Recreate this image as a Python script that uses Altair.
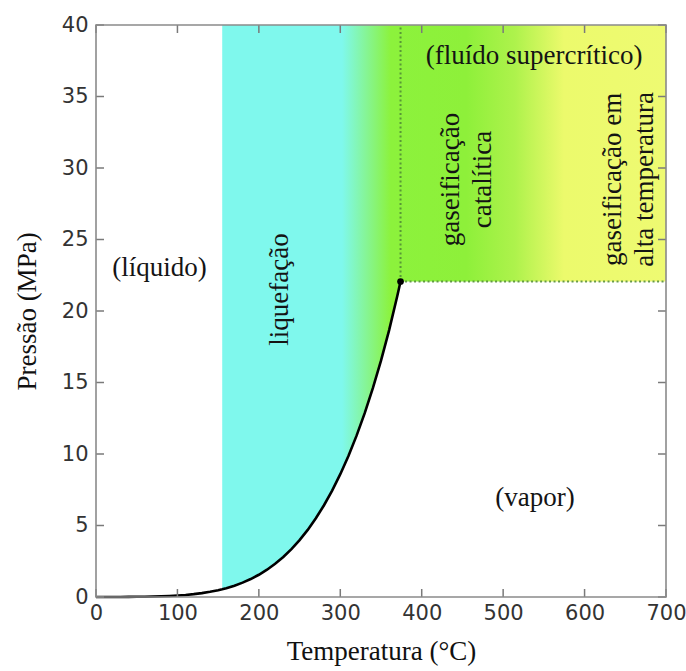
import altair as alt
import pandas as pd

# Vapour-pressure curve of water (°C, MPa)
temps = [0, 10, 20, 30, 40, 50, 60, 70, 80, 90, 100, 110, 120, 130, 140, 150, 155,
         160, 170, 180, 190, 200, 210, 220, 230, 240, 250, 260, 270, 280, 290, 300,
         310, 320, 330, 340, 350, 360, 370, 374]
press = [0.000611, 0.001228, 0.002339, 0.004247, 0.007384, 0.012352, 0.019946,
         0.031201, 0.047414, 0.070182, 0.101418, 0.14338, 0.19867, 0.27028, 0.36154,
         0.47616, 0.54337, 0.61823, 0.79219, 1.0028, 1.2552, 1.5549, 1.9077, 2.3196,
         2.7971, 3.3469, 3.9762, 4.6923, 5.5030, 6.4166, 7.4418, 8.5879, 9.8651,
         11.284, 12.858, 14.601, 16.529, 18.666, 21.044, 22.064]

region_start = 155   # start of coloured band (°C)
t_crit = 374
p_crit = 22.064
t_max = 700
p_max = 40

x_ticks = [0, 100, 200, 300, 400, 500, 600, 700]
y_ticks = [0, 5, 10, 15, 20, 25, 30, 35, 40]

labels_text = [["(líquido)"], ["liquefação"], ["(fluído supercrítico)"],
               ["gaseificação", "catalítica"], ["gaseificação em", "alta temperatura"],
               ["(vapor)"]]
labels_x = [78, 226, 538, 436, 635, 539]
labels_y = [23.0, 21.5, 37.8, 29.2, 29.2, 6.9]
labels_angle = [0, 270, 0, 270, 270, 0]

W, H = 570, 572

curve = pd.DataFrame({"T": temps, "P": press})

band_T = [t for t in temps if t >= region_start] + [t_max]
band_P = [p for t, p in zip(temps, press) if t >= region_start] + [p_crit]
band = pd.DataFrame({"T": band_T, "P": band_P, "Ptop": [p_max] * len(band_T)})

xs = alt.Scale(domain=[0, t_max], nice=False)
ys = alt.Scale(domain=[0, p_max], nice=False)

grad = alt.Gradient(
    gradient="linear", x1=0, x2=1, y1=0, y2=0,
    stops=[
        alt.GradientStop(offset=0.0, color="#7ff8ed"),
        alt.GradientStop(offset=0.27, color="#7ff8ed"),
        alt.GradientStop(offset=0.38, color="#8cf23c"),
        alt.GradientStop(offset=0.55, color="#8ef03a"),
        alt.GradientStop(offset=0.66, color="#aef24c"),
        alt.GradientStop(offset=0.77, color="#ecfa6c"),
        alt.GradientStop(offset=1.0, color="#eefa72"),
    ],
)

area = alt.Chart(band).mark_area(fill=grad, stroke=None, interpolate="linear").encode(
    x=alt.X("T:Q", scale=xs,
            axis=alt.Axis(title="Temperatura (°C)", values=x_ticks, ticks=False, domain=False,
                          grid=False, labelFont="DejaVu Sans", labelFontSize=21,
                          labelColor="#333333", labelPadding=5, titleFont="Liberation Serif",
                          titleFontSize=27, titleFontWeight="normal", titleColor="#111",
                          titlePadding=15, labelFlush=False)),
    y=alt.Y("P:Q", scale=ys,
            axis=alt.Axis(title="Pressão (MPa)", values=y_ticks, ticks=False, domain=False,
                          grid=False, labelFont="DejaVu Sans", labelFontSize=21,
                          labelColor="#333333", labelPadding=8, titleFont="Liberation Serif",
                          titleFontSize=27, titleFontWeight="normal", titleColor="#111",
                          titlePadding=20, labelFlush=False)),
    y2="Ptop:Q",
)

vline = pd.DataFrame({"T": [t_crit, t_crit], "P": [p_crit, p_max]})
hline = pd.DataFrame({"T": [t_crit, t_max], "P": [p_crit, p_crit]})

dot_style = dict(color="#4f8a34", strokeWidth=2.0, strokeDash=[2, 2.5], opacity=0.85)
v = alt.Chart(vline).mark_line(**dot_style).encode(x=alt.X("T:Q", scale=xs), y=alt.Y("P:Q", scale=ys))
h = alt.Chart(hline).mark_line(**dot_style).encode(x=alt.X("T:Q", scale=xs), y=alt.Y("P:Q", scale=ys))

line = alt.Chart(curve).mark_line(color="#000", strokeWidth=2.6).encode(
    x=alt.X("T:Q", scale=xs), y=alt.Y("P:Q", scale=ys))

crit = alt.Chart(pd.DataFrame({"T": [t_crit], "P": [p_crit]})).mark_circle(
    color="#000", opacity=1, size=45).encode(x=alt.X("T:Q", scale=xs), y=alt.Y("P:Q", scale=ys))

text_layers = []
for txt, tx, ty, ang in zip(labels_text, labels_x, labels_y, labels_angle):
    d = pd.DataFrame({"T": [tx], "P": [ty], "txt": [txt]})
    text_layers.append(
        alt.Chart(d).mark_text(font="Liberation Serif", fontSize=27, color="#141414",
                               angle=ang, align="center", baseline="middle",
                               lineHeight=32).encode(
            x=alt.X("T:Q", scale=xs), y=alt.Y("P:Q", scale=ys), text="txt"))

tick_color = "#7a7a7a"
xt = pd.DataFrame({"T": x_ticks})
yt = pd.DataFrame({"P": y_ticks})
tick_b = alt.Chart(xt).mark_rule(color=tick_color, strokeWidth=1.5).encode(
    x=alt.X("T:Q", scale=xs), y=alt.value(H), y2=alt.value(H - 8))
tick_t = alt.Chart(xt).mark_rule(color=tick_color, strokeWidth=1.5).encode(
    x=alt.X("T:Q", scale=xs), y=alt.value(0), y2=alt.value(8))
tick_l = alt.Chart(yt).mark_rule(color=tick_color, strokeWidth=1.5).encode(
    y=alt.Y("P:Q", scale=ys), x=alt.value(0), x2=alt.value(8))
tick_r = alt.Chart(yt).mark_rule(color=tick_color, strokeWidth=1.5).encode(
    y=alt.Y("P:Q", scale=ys), x=alt.value(W), x2=alt.value(W - 8))

frame = alt.Chart(pd.DataFrame({"a": [0]})).mark_rect(
    fill=None, stroke="#8a8a8a", strokeWidth=1.6).encode(
    x=alt.value(0), x2=alt.value(W), y=alt.value(0), y2=alt.value(H))

chart = alt.layer(area, v, h, line, crit, *text_layers, tick_b, tick_t, tick_l, tick_r, frame).properties(
    width=W, height=H,
    autosize=alt.AutoSizeParams(type="none"),
    padding={"left": 96, "top": 25, "right": 20, "bottom": 74},
    background="white",
).configure_view(stroke=None)

chart.save("out.html", embed_options={"renderer": "svg", "actions": False})
